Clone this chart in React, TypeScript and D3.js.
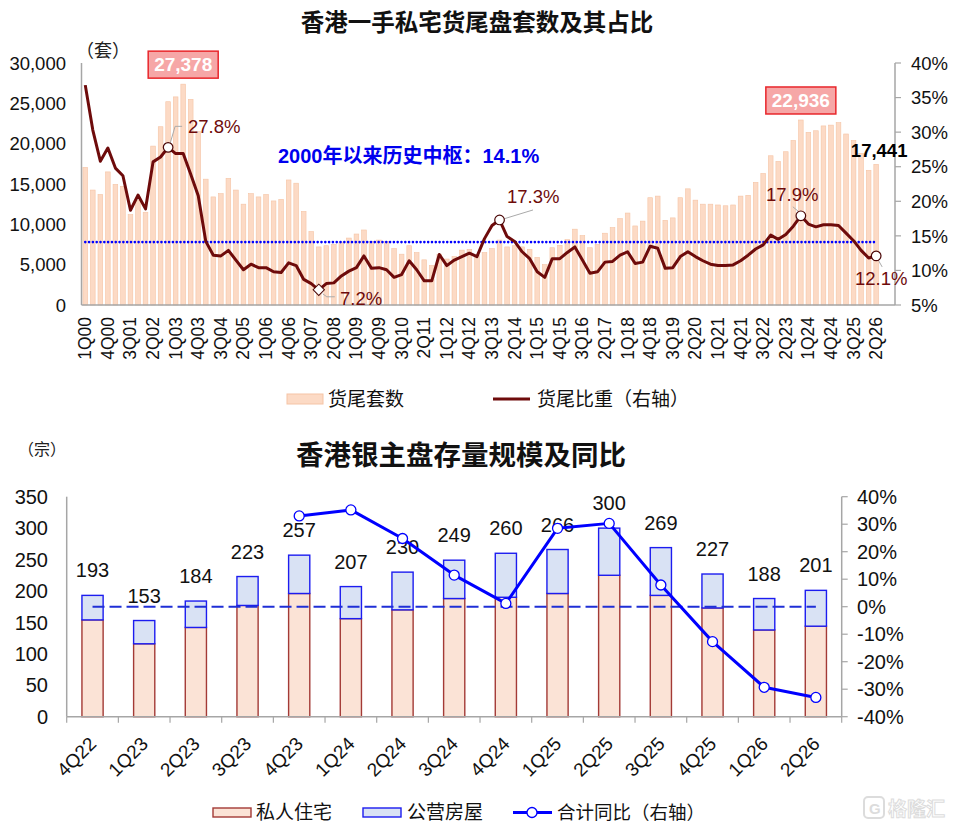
import React from "react";
import * as d3 from "d3";

// ---------- 上图：香港一手私宅货尾盘 ----------
const quarters = (
  "1Q00 2Q00 3Q00 4Q00 1Q01 2Q01 3Q01 4Q01 1Q02 2Q02 3Q02 4Q02 1Q03 2Q03 3Q03 4Q03 " +
  "1Q04 2Q04 3Q04 4Q04 1Q05 2Q05 3Q05 4Q05 1Q06 2Q06 3Q06 4Q06 1Q07 2Q07 3Q07 4Q07 " +
  "1Q08 2Q08 3Q08 4Q08 1Q09 2Q09 3Q09 4Q09 1Q10 2Q10 3Q10 4Q10 1Q11 2Q11 3Q11 4Q11 " +
  "1Q12 2Q12 3Q12 4Q12 1Q13 2Q13 3Q13 4Q13 1Q14 2Q14 3Q14 4Q14 1Q15 2Q15 3Q15 4Q15 " +
  "1Q16 2Q16 3Q16 4Q16 1Q17 2Q17 3Q17 4Q17 1Q18 2Q18 3Q18 4Q18 1Q19 2Q19 3Q19 4Q19 " +
  "1Q20 2Q20 3Q20 4Q20 1Q21 2Q21 3Q21 4Q21 1Q22 2Q22 3Q22 4Q22 1Q23 2Q23 3Q23 4Q23 " +
  "1Q24 2Q24 3Q24 4Q24 1Q25 2Q25 3Q25 4Q25 1Q26 2Q26"
).split(" ");
// two empty slots at the end of the category axis
const axisQuarters = [...quarters, "3Q26", "4Q26"];

const unsoldUnits = [
  17060, 14250, 13700, 16500, 14950, 14700, 11200, 13000, 11500, 19700,
  22100, 25200, 25800, 27378, 25500, 21500, 15600, 13400, 13800, 15700,
  14250, 12500, 13800, 13400, 13700, 12900, 13100, 15500, 15100, 11600,
  9100, 7200, 7350, 7500, 7800, 8300, 8800, 9300, 7900, 8050,
  7900, 7000, 6300, 7350, 6500, 5600, 4900, 6300, 5700, 6000,
  6800, 6900, 6200, 6500, 7000, 8050, 7200, 7350, 7200, 6900,
  5900, 5000, 7100, 7400, 8100, 9400, 8600, 7100, 7500, 8900,
  9600, 10700, 11400, 9800, 10400, 13300, 13500, 10500, 10800, 13300,
  14400, 13000, 12500, 12500, 12400, 12300, 12400, 13500, 13600, 15200,
  16300, 18500, 17800, 19000, 20400, 22936, 21400, 21600, 22200, 22300,
  22600, 21200, 20400, 18800, 16700, 17441,
];

const unsoldRatio = [
  36.8, 30.3, 25.8, 27.7, 24.8, 23.7, 18.7, 20.9, 18.9, 25.7,
  26.4, 27.8, 26.9, 26.9, 23.9, 20.8, 14.2, 12.2, 12.1, 12.9,
  11.5, 10.1, 10.9, 10.4, 10.4, 9.8, 9.7, 11.1, 10.7, 8.7,
  8.1, 7.2, 8.1, 8.2, 9.2, 9.9, 10.4, 12.1, 10.3, 10.4,
  10.1, 9.0, 9.4, 11.4, 10.1, 8.5, 8.5, 12.3, 10.7, 11.5,
  12.0, 12.5, 12.0, 14.6, 16.5, 17.3, 14.9, 14.2, 12.7, 11.7,
  9.8, 9.0, 11.7, 11.7, 12.6, 13.4, 11.5, 9.6, 9.8, 11.2,
  11.3, 12.2, 12.7, 11.0, 11.2, 13.5, 13.2, 10.3, 10.4, 12.0,
  12.7, 12.0, 11.4, 10.9, 10.7, 10.7, 10.8, 11.4, 12.2, 13.1,
  13.7, 15.1, 14.5, 15.2, 16.4, 17.9, 16.7, 16.3, 16.6, 16.6,
  16.5, 15.4, 14.3, 12.9, 11.8, 12.1,
];

const historicalMedian = 14.1;
const leftTicks = [0, 5000, 10000, 15000, 20000, 25000, 30000];
const rightTicks = [5, 10, 15, 20, 25, 30, 35, 40];

// ---------- 下图：香港银主盘 ----------
const bankQuarters = [
  "4Q22", "1Q23", "2Q23", "3Q23", "4Q23", "1Q24", "2Q24", "3Q24",
  "4Q24", "1Q25", "2Q25", "3Q25", "4Q25", "1Q26", "2Q26",
];
const privateHomes = [154, 116, 142, 177, 196, 156, 170, 188, 190, 196, 225, 193, 173, 138, 144];
const publicHomes = [39, 37, 42, 46, 61, 51, 60, 61, 70, 70, 75, 76, 54, 50, 57];
const totalYoy: (number | null)[] = [
  null, null, null, null, 33.0, 35.2, 24.8, 11.5, 1.2, 28.5, 30.3, 7.9, -12.7, -29.3, -33.0,
];
const bankLeftTicks = [0, 50, 100, 150, 200, 250, 300, 350];
const bankRightTicks = [-40, -30, -20, -10, 0, 10, 20, 30, 40];

const FONT = "'Liberation Sans', Arial, 'Noto Sans CJK SC', sans-serif";
const AXIS = "#a6a6a6";
const DARK_RED = "#6e0b0b";

const TopChart: React.FC = () => {
  const left = 81.5, right = 895, top = 63, bottom = 305;
  const x = d3
    .scaleBand<string>()
    .domain(axisQuarters)
    .range([left, right])
    .paddingInner(0.38)
    .paddingOuter(0.19);
  const y = d3.scaleLinear().domain([0, 30000]).range([bottom, top]);
  const yR = d3.scaleLinear().domain([5, 40]).range([bottom, top]);
  const cx = (i: number) => x(quarters[i])! + x.bandwidth() / 2;

  const line = d3
    .line<number>()
    .x((_, i) => cx(i))
    .y((d) => yR(d));

  const pt = (i: number) => ({ px: cx(i), py: yR(unsoldRatio[i]) });
  const p11 = pt(11), p31 = pt(31), p55 = pt(55), p95 = pt(95), p105 = pt(105);
  const fmt = d3.format(",");

  return (
    <g fontFamily={FONT}>
      <text x={477} y={31} textAnchor="middle" fontSize={23.5} fontWeight="bold" fill="#111">
        香港一手私宅货尾盘套数及其占比
      </text>
      <text x={76} y={57} fontSize={18} fill="#222">（套）</text>

      {/* bars */}
      {unsoldUnits.map((v, i) => (
        <rect
          key={i}
          x={x(quarters[i])}
          y={y(v)}
          width={x.bandwidth()}
          height={bottom - y(v)}
          fill="#fcdac5"
          stroke="#f5c4a5"
          strokeWidth={0.6}
        />
      ))}

      {/* axes */}
      <line x1={left} x2={left} y1={top} y2={bottom} stroke={AXIS} strokeWidth={1.5} />
      <line x1={right} x2={right} y1={top} y2={bottom} stroke={AXIS} strokeWidth={1.5} />
      <line x1={left} x2={right} y1={bottom} y2={bottom} stroke={AXIS} strokeWidth={1.5} />
      {leftTicks.map((t) => (
        <text key={t} x={66} y={y(t)} dy="0.36em" textAnchor="end" fontSize={18.5} fill="#111">
          {fmt(t)}
        </text>
      ))}
      {rightTicks.map((t) => (
        <g key={t}>
          <line x1={right} x2={right + 6} y1={yR(t)} y2={yR(t)} stroke={AXIS} strokeWidth={1.2} />
          <text x={911} y={yR(t)} dy="0.36em" fontSize={18.5} fill="#111">
            {t}%
          </text>
        </g>
      ))}
      {quarters.map((q, i) =>
        i % 3 === 0 ? (
          <text
            key={q}
            transform={`translate(${cx(i) + 6},${bottom + 12}) rotate(-90)`}
            textAnchor="end"
            fontSize={17.5}
            fill="#111"
          >
            {q}
          </text>
        ) : null
      )}

      {/* median */}
      <line
        x1={cx(0)}
        x2={cx(quarters.length - 1)}
        y1={yR(historicalMedian)}
        y2={yR(historicalMedian)}
        stroke="#0000ff"
        strokeWidth={2.6}
        strokeLinecap="round"
        strokeDasharray="0.01,3.8"
      />
      <text x={278} y={163} fontSize={20} fontWeight="bold" fill="#0000ee">
        2000年以来历史中枢：14.1%
      </text>

      {/* ratio line */}
      <path d={line(unsoldRatio)!} fill="none" stroke={DARK_RED} strokeWidth={3} strokeLinejoin="round" />

      {/* callouts */}
      <polyline
        points={`${p11.px + 2},${p11.py - 4} ${p11.px + 7},${p11.py - 21} ${p11.px + 14},${p11.py - 21}`}
        fill="none"
        stroke="#aaa"
        strokeWidth={1}
      />
      <circle cx={p11.px} cy={p11.py} r={4.8} fill="#fff" stroke="#4a0606" strokeWidth={1.2} />
      <text x={188} y={133} fontSize={18.5} fill={DARK_RED}>27.8%</text>

      <polyline
        points={`${p31.px + 4},${p31.py + 4} ${p31.px + 8},${p31.py + 7} ${p31.px + 16},${p31.py + 7}`}
        fill="none"
        stroke="#aaa"
        strokeWidth={1}
      />
      <rect
        x={p31.px - 4}
        y={p31.py - 4}
        width={8}
        height={8}
        transform={`rotate(45 ${p31.px} ${p31.py})`}
        fill="#fff"
        stroke="#4a0606"
        strokeWidth={1}
      />
      <text x={340} y={305} fontSize={18.5} fill={DARK_RED}>7.2%</text>

      <line x1={p55.px + 4} y1={p55.py - 1} x2={533} y2={p55.py - 10} stroke="#aaa" strokeWidth={1} />
      <circle cx={p55.px} cy={p55.py} r={4.8} fill="#fff" stroke="#4a0606" strokeWidth={1.2} />
      <text x={507} y={203} fontSize={18.5} fill={DARK_RED}>17.3%</text>

      <line x1={p95.px - 2} y1={p95.py - 4} x2={p95.px - 8} y2={p95.py - 9} stroke="#aaa" strokeWidth={1} />
      <circle cx={p95.px} cy={p95.py} r={4.8} fill="#fff" stroke="#4a0606" strokeWidth={1.2} />
      <text x={766} y={201} fontSize={18.5} fill={DARK_RED}>17.9%</text>

      <line x1={p105.px + 2} y1={p105.py + 4} x2={p105.px + 6} y2={p105.py + 11} stroke="#aaa" strokeWidth={1} />
      <circle cx={p105.px} cy={p105.py} r={4.8} fill="#fff" stroke="#4a0606" strokeWidth={1.2} />
      <text x={855} y={285} fontSize={18.5} fill={DARK_RED}>12.1%</text>

      {/* value boxes */}
      {[13, 95].map((i) => (
        <g key={i}>
          <rect
            x={cx(i) - 35}
            y={y(unsoldUnits[i]) - 33}
            width={70}
            height={27}
            fill="#f6a7a7"
            stroke="#e8262b"
            strokeWidth={1.5}
          />
          <text
            x={cx(i)}
            y={y(unsoldUnits[i]) - 13}
            textAnchor="middle"
            fontSize={19}
            fontWeight="bold"
            fill="#fff"
          >
            {fmt(unsoldUnits[i])}
          </text>
        </g>
      ))}
      <text
        x={cx(105) + 3}
        y={y(unsoldUnits[105]) - 7}
        textAnchor="middle"
        fontSize={18.5}
        fontWeight="bold"
        fill="#000"
      >
        {fmt(unsoldUnits[105])}
      </text>

      {/* legend */}
      <rect x={287} y={394} width={36} height={10} fill="#fcdac5" stroke="#f5c4a5" />
      <text x={328} y={406} fontSize={19} fill="#111">货尾套数</text>
      <line x1={493} x2={530} y1={399} y2={399} stroke={DARK_RED} strokeWidth={3} />
      <text x={537} y={406} fontSize={19} fill="#111">货尾比重（右轴）</text>
    </g>
  );
};

const BottomChart: React.FC = () => {
  const left = 66.7, right = 841.7, top = 496.7, bottom = 716.7;
  const x = d3
    .scaleBand<string>()
    .domain(bankQuarters)
    .range([left, right])
    .paddingInner(0.59)
    .paddingOuter(0.295);
  const y = d3.scaleLinear().domain([0, 350]).range([bottom, top]);
  const yR = d3.scaleLinear().domain([-40, 40]).range([bottom, top]);
  const cx = (i: number) => x(bankQuarters[i])! + x.bandwidth() / 2;
  const step = x.step();

  const yoyPts = totalYoy
    .map((v, i) => ({ v, i }))
    .filter((d) => d.v !== null) as { v: number; i: number }[];
  const line = d3
    .line<{ v: number; i: number }>()
    .x((d) => cx(d.i))
    .y((d) => yR(d.v));

  return (
    <g fontFamily={FONT}>
      <text x={18} y={455} fontSize={16} fill="#222">（宗）</text>
      <text x={461} y={465} textAnchor="middle" fontSize={27.5} fontWeight="bold" fill="#111">
        香港银主盘存量规模及同比
      </text>

      {bankQuarters.map((q, i) => {
        const p = privateHomes[i];
        const t = p + publicHomes[i];
        return (
          <g key={q}>
            <rect
              x={x(q)}
              y={y(p)}
              width={x.bandwidth()}
              height={bottom - y(p)}
              fill="#fbe3d6"
              stroke="#a33a36"
              strokeWidth={1.4}
            />
            <rect
              x={x(q)}
              y={y(t)}
              width={x.bandwidth()}
              height={y(p) - y(t)}
              fill="#d9e2f4"
              stroke="#1c1cf0"
              strokeWidth={1.4}
            />
            <text x={cx(i)} y={y(t) - 18} textAnchor="middle" fontSize={20} fill="#111">
              {t}
            </text>
          </g>
        );
      })}

      {/* axes */}
      <line x1={left} x2={left} y1={top} y2={bottom} stroke={AXIS} strokeWidth={1.5} />
      <line x1={right} x2={right} y1={top} y2={bottom} stroke={AXIS} strokeWidth={1.5} />
      <line x1={left} x2={right} y1={bottom} y2={bottom} stroke={AXIS} strokeWidth={1.5} />
      {d3.range(bankQuarters.length + 1).map((k) => (
        <line
          key={k}
          x1={left + k * step}
          x2={left + k * step}
          y1={bottom}
          y2={bottom + 6}
          stroke={AXIS}
          strokeWidth={1.2}
        />
      ))}
      {bankLeftTicks.map((t) => (
        <text key={t} x={48} y={y(t)} dy="0.36em" textAnchor="end" fontSize={20} fill="#111">
          {t}
        </text>
      ))}
      {bankRightTicks.map((t) => (
        <g key={t}>
          <line x1={right} x2={right + 6} y1={yR(t)} y2={yR(t)} stroke={AXIS} strokeWidth={1.2} />
          <text x={857} y={yR(t)} dy="0.36em" fontSize={20} fill="#111">
            {t}%
          </text>
        </g>
      ))}
      {bankQuarters.map((q, i) => (
        <text
          key={q}
          transform={`translate(${cx(i) + 5},${745}) rotate(-45)`}
          textAnchor="end"
          fontSize={19}
          fill="#111"
        >
          {q}
        </text>
      ))}

      {/* zero line */}
      <line
        x1={cx(0)}
        x2={cx(bankQuarters.length - 1)}
        y1={yR(0)}
        y2={yR(0)}
        stroke="#1f2fd6"
        strokeWidth={2}
        strokeDasharray="12,5"
      />

      <path d={line(yoyPts)!} fill="none" stroke="#0000ff" strokeWidth={3} strokeLinejoin="round" />
      {yoyPts.map((d) => (
        <circle key={d.i} cx={cx(d.i)} cy={yR(d.v)} r={5} fill="#fff" stroke="#0000ff" strokeWidth={1.3} />
      ))}

      {/* legend */}
      <rect x={213} y={808} width={38} height={9} fill="#fbe3d6" stroke="#a33a36" strokeWidth={1.4} />
      <text x={256} y={819} fontSize={19} fill="#111">私人住宅</text>
      <rect x={363} y={808} width={38} height={9} fill="#d9e2f4" stroke="#1c1cf0" strokeWidth={1.4} />
      <text x={407} y={819} fontSize={19} fill="#111">公营房屋</text>
      <line x1={513} x2={552} y1={812.5} y2={812.5} stroke="#0000ff" strokeWidth={3} />
      <circle cx={532} cy={812.5} r={5} fill="#fff" stroke="#0000ff" strokeWidth={1.3} />
      <text x={557} y={819} fontSize={18.5} fill="#111">合计同比（右轴）</text>

      {/* watermark */}
      <g opacity={0.5}>
        <rect x={864} y={797} width={20} height={21} rx={4} fill="none" stroke="#bbb" strokeWidth={2} />
        <text x={869} y={814} fontSize={15} fontWeight="bold" fill="#bbb">G</text>
        <text x={888} y={816} fontSize={19} fontWeight="bold" fill="#fff" stroke="#bbb" strokeWidth={1}>
          格隆汇
        </text>
      </g>
    </g>
  );
};

export default function App() {
  return (
    <svg
      width={953}
      height={825}
      style={{ position: "absolute", left: 0, top: 0, background: "#fff" }}
    >
      <rect width={953} height={825} fill="#fff" />
      <TopChart />
      <BottomChart />
    </svg>
  );
}
